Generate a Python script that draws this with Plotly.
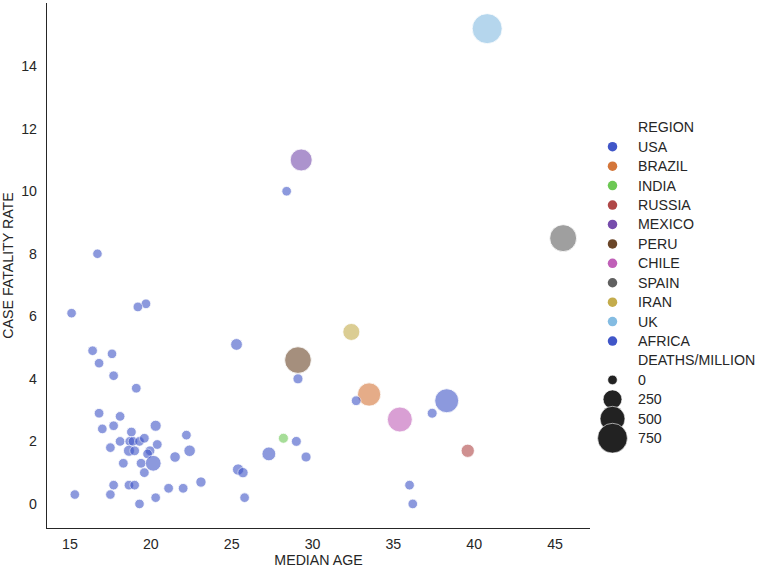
import math
import plotly.graph_objects as go

# ---------------- data ----------------
REGIONS = ["USA", "BRAZIL", "INDIA", "RUSSIA", "MEXICO", "PERU", "CHILE",
           "SPAIN", "IRAN", "UK", "AFRICA"]
REGION_COLORS = ["#4056c8", "#d4763a", "#6cc854", "#b04848", "#764cac",
                 "#6a4628", "#c060b8", "#606060", "#c4ac4c", "#84bce2",
                 "#4056c8"]

country_region = ["USA", "BRAZIL", "INDIA", "RUSSIA", "MEXICO", "PERU",
                  "CHILE", "SPAIN", "IRAN", "UK"]
country_age = [38.3, 33.5, 28.2, 39.6, 29.3, 29.1, 35.4, 45.5, 32.4, 40.8]
country_cfr = [3.3, 3.5, 2.1, 1.7, 11.0, 4.6, 2.7, 8.5, 5.5, 15.2]
country_dpm = [456, 425, 9, 81, 369, 584, 502, 599, 187, 765]

africa_age = [28.4, 16.7, 19.7, 19.2, 15.1, 25.3, 16.4, 17.6, 16.8, 17.7,
              29.1, 19.1, 32.7, 37.4, 16.8, 18.1, 17.0, 17.7, 20.3, 18.8,
              22.2, 18.1, 18.7, 18.9, 19.3, 19.6, 20.4, 17.5, 18.65, 19.0,
              19.95, 19.8, 18.3, 19.4, 20.15, 21.5, 22.4, 19.6, 29.0, 29.6,
              27.3, 25.4, 25.7, 17.7, 18.65, 19.0, 21.1, 22.0, 23.1, 15.3,
              17.5, 20.3, 19.3, 25.8, 36.0, 36.2]
africa_cfr = [10.0, 8.0, 6.4, 6.3, 6.1, 5.1, 4.9, 4.8, 4.5, 4.1,
              4.0, 3.7, 3.3, 2.9, 2.9, 2.8, 2.4, 2.5, 2.5, 2.3,
              2.2, 2.0, 2.0, 2.0, 2.0, 2.1, 1.9, 1.8, 1.7, 1.7,
              1.7, 1.6, 1.3, 1.3, 1.3, 1.5, 1.7, 1.0, 2.0, 1.5,
              1.6, 1.1, 1.0, 0.6, 0.6, 0.6, 0.5, 0.5, 0.7, 0.3,
              0.3, 0.2, 0.0, 0.2, 0.6, 0.0]
africa_dpm = [2, 0, 3, 3, 1, 45, 2, 1, 1, 2,
              10, 3, 5, 8, 3, 3, 2, 2, 30, 4,
              3, 3, 4, 4, 3, 4, 4, 2, 30, 5,
              5, 3, 3, 5, 150, 20, 40, 4, 8, 10,
              95, 35, 15, 2, 3, 3, 4, 4, 15, 1,
              1, 1, 1, 2, 3, 2]

size_legend_values = [0, 250, 500, 750]

X_TICKS = [15, 20, 25, 30, 35, 40, 45]
Y_TICKS = [0, 2, 4, 6, 8, 10, 12, 14]

# ---------------- style / layout constants ----------------
W, H = 759, 568
PLOT_L, PLOT_R, PLOT_T, PLOT_B = 47, 590, 3, 528
LEG_X0 = 595.0
TEXT = "#262626"
FONT = "Liberation Sans, Arial, Helvetica, sans-serif"
FS = 14.2
ALPHA = 0.6

all_dpm = country_dpm + africa_dpm
VMIN, VMAX = min(all_dpm), max(all_dpm)
S_MIN, S_MAX, D_MAX = 50.0, 500.0, 30.0


def diam(v):
    norm = (v - VMIN) / (VMAX - VMIN)
    area = S_MIN + (S_MAX - S_MIN) * norm
    return D_MAX * math.sqrt(area / S_MAX)


color_of = dict(zip(REGIONS, REGION_COLORS))

fig = go.Figure()

# countries
for reg, a, c, d in zip(country_region, country_age, country_cfr, country_dpm):
    fig.add_trace(go.Scatter(
        x=[a], y=[c], mode="markers", name=reg, showlegend=False,
        cliponaxis=False,
        marker=dict(color=color_of[reg], size=diam(d), opacity=ALPHA,
                    line=dict(color="white", width=0.8))))

# africa
fig.add_trace(go.Scatter(
    x=africa_age, y=africa_cfr, mode="markers", name="AFRICA",
    showlegend=False, cliponaxis=False,
    marker=dict(color=color_of["AFRICA"], size=[diam(v) for v in africa_dpm],
                opacity=ALPHA, line=dict(color="white", width=0.8))))

# ---------------- custom legend on an overlay axis (pixel units) ----------------
plot_w = W - PLOT_L
dom0 = (LEG_X0 - PLOT_L) / plot_w
ROW0, ROW_H = 127.3, 19.43
MX, TX = 612.5, 636.0

rows = ["REGION"] + REGIONS + ["DEATHS/MILLION"] + [str(v) for v in size_legend_values]
annotations = []
for i, lab in enumerate(rows):
    annotations.append(dict(
        x=TX, y=ROW0 + ROW_H * i, xref="x2", yref="y2", text=lab,
        showarrow=False, xanchor="left", yanchor="middle",
        font=dict(family=FONT, size=FS, color=TEXT)))

reg_y = [ROW0 + ROW_H * (1 + i) for i in range(len(REGIONS))]
fig.add_trace(go.Scatter(
    x=[MX] * len(REGIONS), y=reg_y, xaxis="x2", yaxis="y2", mode="markers",
    showlegend=False, cliponaxis=False, hoverinfo="skip",
    marker=dict(color=REGION_COLORS, size=9.5, opacity=1)))

size_y = [ROW0 + ROW_H * (len(REGIONS) + 2 + i) for i in range(len(size_legend_values))]
fig.add_trace(go.Scatter(
    x=[MX] * len(size_legend_values), y=size_y, xaxis="x2", yaxis="y2",
    mode="markers", showlegend=False, cliponaxis=False, hoverinfo="skip",
    marker=dict(color="#222222", size=[diam(v) for v in size_legend_values],
                opacity=1, line=dict(color="white", width=0.6))))

fig.update_layout(
    width=W, height=H,
    margin=dict(l=PLOT_L, r=0, t=PLOT_T, b=H - PLOT_B, autoexpand=False),
    paper_bgcolor="white", plot_bgcolor="white",
    font=dict(family=FONT, size=FS, color=TEXT),
    showlegend=False,
    annotations=annotations,
    xaxis=dict(domain=[0, (PLOT_R - PLOT_L) / plot_w], range=[13.58, 47.16],
               tickvals=X_TICKS, showgrid=False, zeroline=False,
               showline=True, linecolor=TEXT, linewidth=1.3, automargin=False,
               ticks="outside", ticklen=3, tickcolor="rgba(0,0,0,0)",
               title=dict(text="MEDIAN AGE", standoff=1,
                          font=dict(family=FONT, size=FS, color=TEXT)),
               tickfont=dict(family=FONT, size=FS, color=TEXT)),
    yaxis=dict(range=[-0.77, 16.02], tickvals=Y_TICKS, showgrid=False,
               zeroline=False, showline=True, linecolor=TEXT, linewidth=1.3,
               automargin=False,
               ticks="outside", ticklen=6, tickcolor="rgba(0,0,0,0)",
               title=dict(text="CASE FATALITY RATE", standoff=6,
                          font=dict(family=FONT, size=FS, color=TEXT)),
               tickfont=dict(family=FONT, size=FS, color=TEXT)),
    xaxis2=dict(domain=[dom0, 1], range=[LEG_X0, W], visible=False,
                fixedrange=True, anchor="y2", automargin=False),
    yaxis2=dict(domain=[0, 1], range=[PLOT_B, PLOT_T], visible=False,
                fixedrange=True, anchor="x2", automargin=False),
)

fig.write_html(
    "out.html",
    config={"displayModeBar": False},
    post_script="document.body.style.margin='0';document.body.style.overflow='hidden';",
)
